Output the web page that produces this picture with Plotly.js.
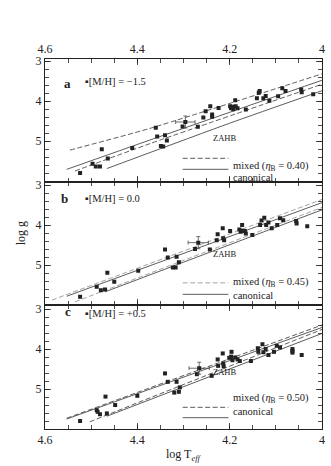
<!DOCTYPE html>
<html>
<head>
<meta charset="utf-8">
<script src="https://cdn.plot.ly/plotly-3.0.1.min.js"></script>
<style>
  body { margin: 0; background: #fff; }
  #hb_graph { width: 331px; height: 466px; }
</style>
</head>
<body>
<div id="hb_graph"></div>
<script>
/**
 * Colours and fonts
 */
const ink = "#222";
const lineGrey = "#4a4a4a";
const lightGrey = "#9a9a9a";
const serif = "Liberation Serif, DejaVu Serif, serif";

/**
 * Panel a, [M/H] = -1.5 : stars (log Teff, log g)
 */
const teff_a = [4.524, 4.497, 4.490, 4.481, 4.477, 4.464, 4.411, 4.360, 4.357, 4.349,
                4.344, 4.340, 4.336, 4.302, 4.269, 4.257, 4.252, 4.242, 4.238, 4.238,
                4.224, 4.199, 4.197, 4.194, 4.192, 4.188, 4.187, 4.183, 4.165, 4.141,
                4.137, 4.135, 4.127, 4.122, 4.114, 4.095, 4.086, 4.079, 4.045, 4.044, 4.019];
const logg_a = [5.79, 5.56, 5.63, 5.63, 5.20, 5.43, 5.17, 4.66, 4.88, 5.12,
                5.13, 4.85, 4.98, 4.63, 4.64, 4.41, 4.25, 4.13, 4.33, 4.39,
                4.17, 4.13, 4.18, 4.14, 4.20, 3.98, 4.13, 4.18, 4.21, 3.93,
                3.79, 3.75, 3.93, 3.87, 3.99, 3.88, 3.68, 3.75, 3.71, 3.78, 3.83];

/**
 * Panel b, [M/H] = 0.0
 */
const teff_b = [4.524, 4.488, 4.479, 4.470, 4.465, 4.450, 4.398, 4.340, 4.334, 4.323,
                4.317, 4.315, 4.310, 4.275, 4.243, 4.228, 4.226, 4.215, 4.214, 4.212,
                4.199, 4.179, 4.176, 4.172, 4.167, 4.165, 4.173, 4.151, 4.134, 4.131,
                4.125, 4.121, 4.116, 4.109, 4.097, 4.091, 4.084, 4.056, 4.055, 4.032];
const logg_b = [5.79, 5.54, 5.63, 5.61, 5.19, 5.42, 5.14, 4.61, 4.81, 5.06,
                5.06, 4.79, 4.93, 4.60, 4.61, 4.38, 4.23, 4.08, 4.33, 4.38,
                4.15, 4.11, 4.17, 4.14, 4.15, 4.21, 4.00, 4.25, 4.00, 3.89,
                3.82, 4.00, 3.94, 4.08, 4.00, 3.83, 3.88, 3.90, 3.96, 4.03];

/**
 * Panel c, [M/H] = +0.5
 */
const teff_c = [4.524, 4.488, 4.486, 4.481, 4.469, 4.466, 4.448, 4.400, 4.340, 4.334,
                4.320, 4.310, 4.315, 4.308, 4.271, 4.239, 4.226, 4.225, 4.215, 4.214,
                4.213, 4.201, 4.196, 4.197, 4.194, 4.188, 4.183, 4.178, 4.154, 4.139,
                4.138, 4.129, 4.127, 4.122, 4.116, 4.104, 4.098, 4.091, 4.064, 4.064,
                4.064, 4.044];
const logg_c = [5.80, 5.53, 5.57, 5.63, 5.19, 5.61, 5.40, 5.17, 4.61, 4.82,
                5.09, 5.07, 4.82, 4.96, 4.63, 4.67, 4.26, 4.42, 4.11, 4.36,
                4.43, 4.22, 4.07, 4.19, 4.28, 4.21, 4.26, 4.30, 4.30, 3.98,
                4.07, 3.88, 4.08, 4.00, 4.15, 4.07, 3.92, 3.96, 4.00, 4.05,
                4.09, 4.15];

/**
 * Typical error bar star, one per panel: [teff, logg, err_teff, err_logg]
 */
const errStar_a = [4.296, 4.52, 0.021, 0.15];
const errStar_b = [4.268, 4.44, 0.022, 0.15];
const errStar_c = [4.266, 4.48, 0.022, 0.15];

/**
 * Model tracks: canonical (solid) and mixed (dashed), upper and lower (ZAHB) lines
 */
const mixTop_a_T = [4.546, 4.373, 4.00];
const mixTop_a_g = [5.22, 4.68, 3.32];
const canTop_a_T = [4.553, 4.373, 4.00];
const canTop_a_g = [5.70, 4.97, 3.48];
const mixZ_a_T = [4.535, 4.373, 4.00];
const mixZ_a_g = [5.74, 5.06, 3.58];
const canZ_a_T = [4.466, 4.20, 4.00];
const canZ_a_g = [5.68, 4.55, 3.74];

const mixTop_b_T = [4.585, 4.00];
const mixTop_b_g = [5.875, 3.36];
const canTop_b_T = [4.553, 4.00];
const canTop_b_g = [5.78, 3.44];
const mixZ_b_T = [4.535, 4.00];
const mixZ_b_g = [5.92, 3.56];
const canZ_b_T = [4.470, 4.00];
const canZ_b_g = [5.67, 3.62];

const mixTop_c_T = [4.553, 4.00];
const mixTop_c_g = [5.73, 3.40];
const canTop_c_T = [4.553, 4.00];
const canTop_c_g = [5.75, 3.46];
const mixZ_c_T = [4.503, 4.00];
const mixZ_c_g = [5.82, 3.51];
const canZ_c_T = [4.466, 4.00];
const canZ_c_g = [5.68, 3.61];

/**
 * Labels
 */
const panelLetters = ["a", "b", "c"];
const metalLabels = ["[M/H] = \u22121.5", "[M/H] = 0.0", "[M/H] = +0.5"];
const mixedLabels = ["0.40", "0.45", "0.50"];
const xTickVals = [4.6, 4.4, 4.2, 4.0];
const xTickText = ["4.6", "4.4", "4.2", "4"];
const yTickVals = [3, 4, 5];

// Panel geometry in paper units (plot area 45..322 x 59..429 px)
const panelTop = [1.0, 0.667, 0.335];
const panelBot = [0.667, 0.335, 0.0];

function stars(x, y, n) {
    return {
        x: x, y: y, xaxis: 'x' + (n === 1 ? '' : n), yaxis: 'y' + (n === 1 ? '' : n),
        type: 'scatter', mode: 'markers', showlegend: false, hoverinfo: 'skip',
        marker: { symbol: 'square', size: 4, color: ink, line: { width: 0 } }
    };
}

function errStar(e, n) {
    return {
        x: [e[0]], y: [e[1]], xaxis: 'x' + (n === 1 ? '' : n), yaxis: 'y' + (n === 1 ? '' : n),
        type: 'scatter', mode: 'markers', showlegend: false, hoverinfo: 'skip',
        marker: { symbol: 'square', size: 4, color: ink },
        error_x: { type: 'constant', value: e[2], color: lineGrey, thickness: 0.8, width: 2 },
        error_y: { type: 'constant', value: e[3], color: lineGrey, thickness: 0.8, width: 2 }
    };
}

function track(x, y, n, dashed, col) {
    return {
        x: x, y: y, xaxis: 'x' + (n === 1 ? '' : n), yaxis: 'y' + (n === 1 ? '' : n),
        type: 'scatter', mode: 'lines', showlegend: false, hoverinfo: 'skip',
        line: { color: col, width: 0.9, dash: dashed ? '5px,2.5px' : 'solid', shape: 'spline', smoothing: 0.6 }
    };
}

var data = [
    track(mixTop_a_T, mixTop_a_g, 1, true, lineGrey),
    track(canTop_a_T, canTop_a_g, 1, false, lineGrey),
    track(mixZ_a_T, mixZ_a_g, 1, true, lineGrey),
    track(canZ_a_T, canZ_a_g, 1, false, lineGrey),
    stars(teff_a, logg_a, 1),
    errStar(errStar_a, 1),

    track(mixTop_b_T, mixTop_b_g, 2, true, lightGrey),
    track(canTop_b_T, canTop_b_g, 2, false, lineGrey),
    track(mixZ_b_T, mixZ_b_g, 2, true, lightGrey),
    track(canZ_b_T, canZ_b_g, 2, false, lineGrey),
    stars(teff_b, logg_b, 2),
    errStar(errStar_b, 2),

    track(mixTop_c_T, mixTop_c_g, 3, true, lineGrey),
    track(canTop_c_T, canTop_c_g, 3, false, lineGrey),
    track(mixZ_c_T, mixZ_c_g, 3, true, lineGrey),
    track(canZ_c_T, canZ_c_g, 3, false, lineGrey),
    stars(teff_c, logg_c, 3),
    errStar(errStar_c, 3)
];

function xAxis(n, labels, side) {
    return {
        range: [4.6, 4.0],
        anchor: 'y' + (n === 1 ? '' : n),
        side: side,
        showgrid: false, zeroline: false,
        showline: true, linecolor: ink, linewidth: 1, mirror: 'allticks',
        ticks: 'inside', ticklen: 6, tickwidth: 0.8, tickcolor: ink,
        tickvals: xTickVals, ticktext: xTickText,
        showticklabels: labels,
        tickfont: { family: serif, size: 12, color: ink },
        minor: { dtick: 0.05, ticks: 'inside', ticklen: 4, tickwidth: 0.8, tickcolor: ink, showgrid: false },
        matches: n === 1 ? undefined : 'x'
    };
}

function yAxis(n, range) {
    return {
        domain: [panelBot[n - 1], panelTop[n - 1]],
        range: range,
        anchor: 'x' + (n === 1 ? '' : n),
        showgrid: false, zeroline: false,
        showline: true, linecolor: ink, linewidth: 1, mirror: 'allticks',
        ticks: 'inside', ticklen: 6, tickwidth: 0.8, tickcolor: ink,
        tickvals: yTickVals,
        tickfont: { family: serif, size: 12, color: ink },
        minor: { dtick: 0.2, ticks: 'inside', ticklen: 4, tickwidth: 0.8, tickcolor: ink, showgrid: false }
    };
}

// per-panel annotation / legend positions, paper units
const letterY = [0.9595, 0.624, 0.292];
const letterX = [0.060, 0.050, 0.064];
const zahbY = [0.805, 0.473, 0.134];
const mixedY = [0.7316, 0.395, 0.0586];
const canonY = [0.7019, 0.364, 0.0305];

var annotations = [];
var shapes = [];
for (let i = 0; i < 3; i++) {
    annotations.push({
        xref: 'paper', yref: 'paper', x: letterX[i], y: letterY[i], showarrow: false,
        text: '<b>' + panelLetters[i] + '</b>', font: { family: serif, size: 13, color: ink }
    });
    annotations.push({
        xref: 'paper', yref: 'paper', x: 0.138, y: letterY[i], xanchor: 'left', showarrow: false,
        text: '\u25aa' + metalLabels[i], font: { family: serif, size: 10.5, color: ink }
    });
    annotations.push({
        xref: 'paper', yref: 'paper', x: 0.697, y: zahbY[i], showarrow: false,
        text: 'ZAHB', font: { family: serif, size: 8.5, color: ink }
    });
    annotations.push({
        xref: 'paper', yref: 'paper', x: 0.672, y: mixedY[i], xanchor: 'left', showarrow: false,
        text: 'mixed (<i>\u03b7</i><sub>B</sub> = ' + mixedLabels[i] + ')',
        font: { family: serif, size: 10.5, color: ink }
    });
    annotations.push({
        xref: 'paper', yref: 'paper', x: 0.672, y: canonY[i] - 0.003, xanchor: 'left', showarrow: false,
        text: 'canonical', font: { family: serif, size: 10.5, color: ink }
    });
    shapes.push({
        type: 'line', xref: 'paper', yref: 'paper', x0: 0.497, x1: 0.662, y0: mixedY[i], y1: mixedY[i],
        line: { color: i === 1 ? lightGrey : lineGrey, width: 0.9, dash: '5px,2.5px' }
    });
    shapes.push({
        type: 'line', xref: 'paper', yref: 'paper', x0: 0.497, x1: 0.662, y0: canonY[i], y1: canonY[i],
        line: { color: lineGrey, width: 0.9 }
    });
}

annotations.push({
    xref: 'paper', yref: 'paper', x: 0.5, y: -0.07, yanchor: 'middle', showarrow: false,
    text: 'log T<sub><i>eff</i></sub>', font: { family: serif, size: 12, color: ink }
});
annotations.push({
    xref: 'paper', yref: 'paper', x: -0.118, y: 0.53, textangle: -90, showarrow: false,
    text: 'log g', font: { family: serif, size: 12, color: ink }
});

var layout = {
    width: 331,
    height: 466,
    margin: { l: 45, r: 9, t: 59, b: 37, pad: 0 },
    paper_bgcolor: '#fff',
    plot_bgcolor: '#fff',
    showlegend: false,
    xaxis: xAxis(1, true, 'top'),
    xaxis2: xAxis(2, false, 'bottom'),
    xaxis3: xAxis(3, true, 'bottom'),
    yaxis: yAxis(1, [6.02, 2.95]),
    yaxis2: yAxis(2, [6.0, 2.93]),
    yaxis3: yAxis(3, [6.0, 2.9]),
    annotations: annotations,
    shapes: shapes
};

Plotly.newPlot('hb_graph', data, layout, { staticPlot: true, displayModeBar: false });
</script>
</body>
</html>
